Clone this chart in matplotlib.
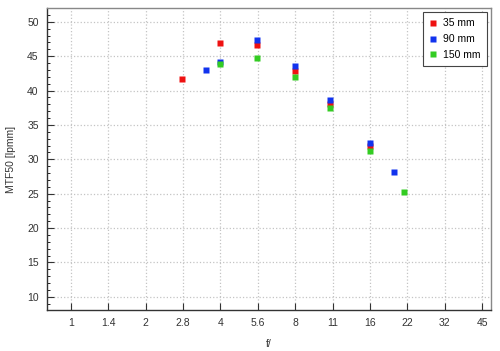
import numpy as np
import matplotlib.pyplot as plt
from matplotlib.ticker import FixedLocator, MultipleLocator

plt.rcParams['font.family'] = ['Liberation Sans', 'DejaVu Sans']

# f-stop tick labels
tick_labels = ['1', '1.4', '2', '2.8', '4', '5.6', '8', '11', '16', '22', '32', '45']

# measured MTF50 values per focal length
f_35 = [2.8, 4, 5.6, 8, 11, 16]
mtf_35 = [41.7, 46.9, 46.6, 42.9, 38.1, 31.9]

f_90 = [3.5, 4, 5.6, 8, 11, 16, 20]
mtf_90 = [43.0, 44.2, 47.4, 43.6, 38.6, 32.4, 28.1]

f_150 = [4, 5.6, 8, 11, 16, 22]
mtf_150 = [43.8, 44.7, 42.0, 37.5, 31.2, 25.3]


def stops(f):
    # position in full stops from f/1
    return 2 * np.log2(np.asarray(f, dtype=float))


fig = plt.figure(figsize=(5.0, 3.51), dpi=100)
ax = fig.add_axes([0.094, 0.117, 0.888, 0.860])

ms = 4.8
ax.plot(stops(f_35), mtf_35, 's', color='#ee1111', ms=ms, mec='none', label='35 mm', zorder=3)
ax.plot(stops(f_90), mtf_90, 's', color='#1133ee', ms=ms, mec='none', label='90 mm', zorder=4)
ax.plot(stops(f_150), mtf_150, 's', color='#33cc22', ms=ms, mec='none', label='150 mm', zorder=5)

ax.set_xlim(-0.64, 11.24)
ax.set_ylim(8.1, 52)

ax.xaxis.set_major_locator(FixedLocator(range(len(tick_labels))))
ax.set_xticklabels(tick_labels)
ax.set_yticks(np.arange(10, 51, 5))
ax.yaxis.set_minor_locator(MultipleLocator(1))

ax.tick_params(axis='both', which='major', direction='in', length=5, width=0.8,
               labelsize=7.5, colors='#333333', pad=6)
ax.tick_params(axis='y', which='minor', direction='in', length=2.5, width=0.6)
ax.tick_params(axis='x', which='minor', bottom=False)

ax.grid(True, which='major', linestyle=':', color='#c4c4c4', linewidth=0.9)

for side in ['left', 'bottom']:
    ax.spines[side].set_color('#333333')
for side in ['top', 'right']:
    ax.spines[side].set_color('#888888')
for s in ax.spines.values():
    s.set_linewidth(1.0)

ax.set_xlabel('f/', fontsize=7.5, color='#333333', labelpad=8)
ax.set_ylabel('MTF50 [lpmm]', fontsize=7.5, color='#333333', labelpad=8)

leg = ax.legend(loc='upper right', fontsize=7.5, frameon=True, fancybox=False,
                edgecolor='#444444', handlelength=0.6, handletextpad=0.7,
                borderpad=0.6, labelspacing=0.55, borderaxespad=0.4)
leg.get_frame().set_linewidth(0.8)
leg.get_frame().set_alpha(1.0)

fig.savefig('out.png', dpi=100)
